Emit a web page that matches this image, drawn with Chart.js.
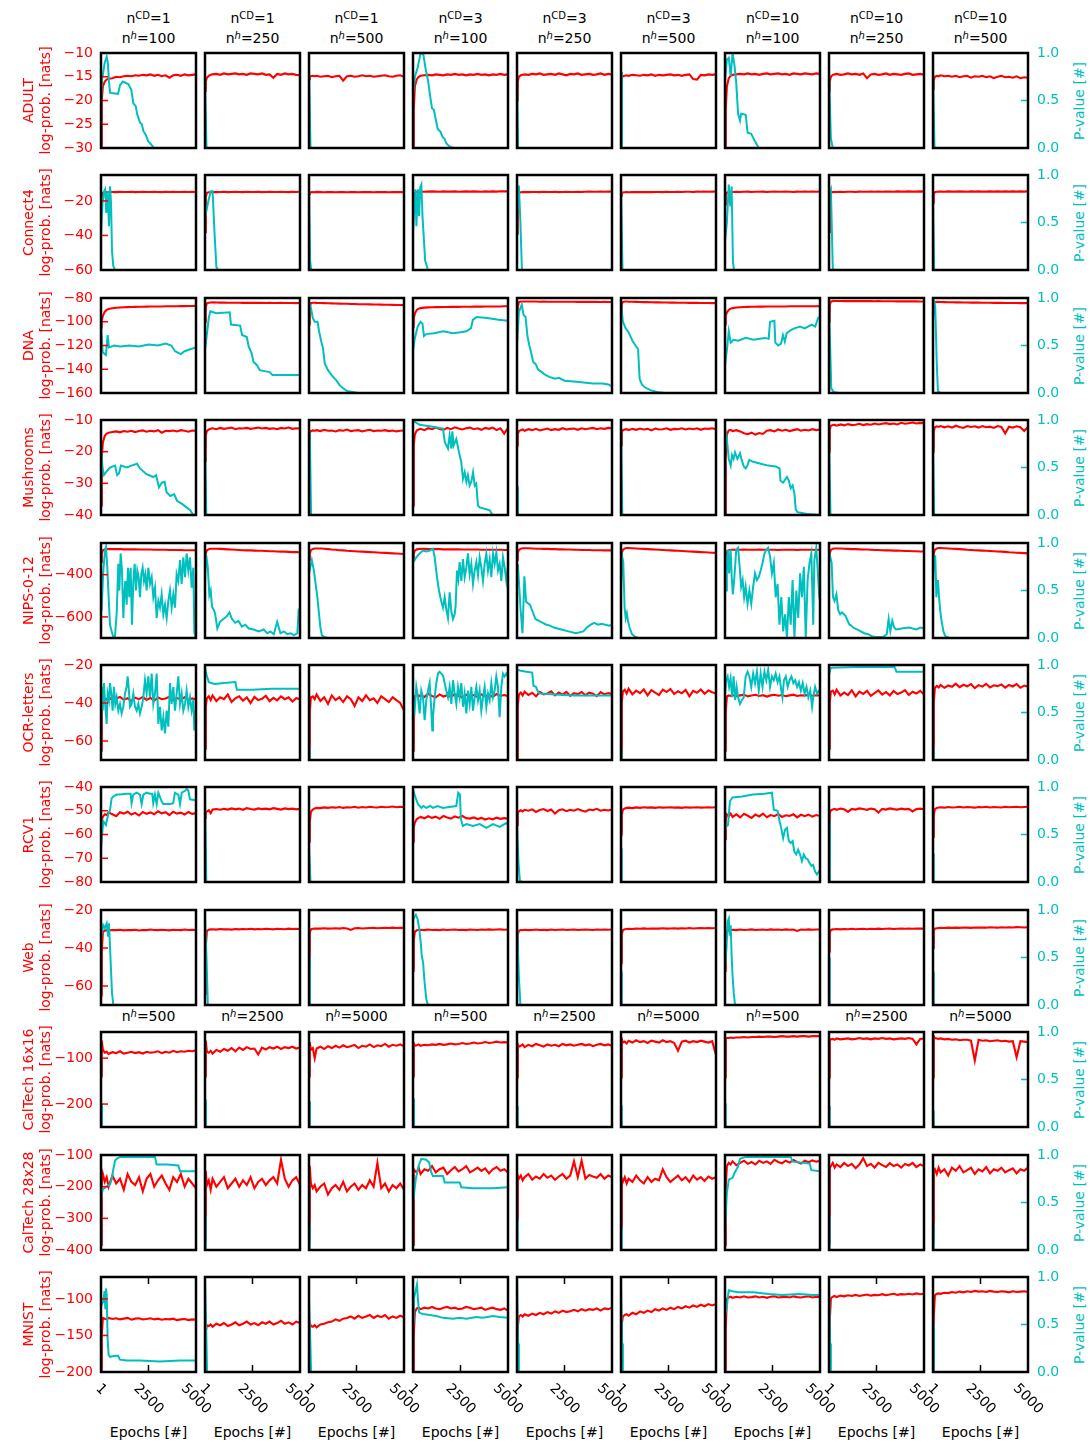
<!DOCTYPE html>
<html>
<head>
<meta charset="utf-8">
<script src="https://cdn.jsdelivr.net/npm/chart.js@4.4.1/dist/chart.umd.min.js"></script>
<style>
  body { margin: 0; background: #fff; }
  #fig { position: relative; width: 1090px; height: 1444px; overflow: hidden;
         font-family: 'DejaVu Sans', sans-serif; font-size: 14px; color: #000; }
  #fig canvas { position: absolute; }
  .lbl { position: absolute; white-space: nowrap; line-height: 20px; text-align: center; width: 104px; }
  .lbl sup { font-size: 10px; position: relative; top: -0.45em; vertical-align: baseline; line-height: 0; }
  .ptitle { position: absolute; white-space: nowrap; color: #00bfbf; line-height: 16px;
            transform: translate(-50%, -50%) rotate(-90deg); }
</style>
</head>
<body>
<div id="fig"></div>
<script>
const EPOCHS = [1, 40, 100, 200, 300, 400, 600, 800, 1000, 1200, 1400, 1600, 1800, 2000, 2200,
  2400, 2600, 2800, 3000, 3200, 3400, 3600, 3800, 4000, 4200, 4400, 4600, 4800, 5000];
const X_TICKS = [1, 2500, 5000];
const P_TICKS = [0, 0.5, 1];

const DATASET_NAMES = ['ADULT', 'Connect4', 'DNA', 'Mushrooms', 'NIPS-0-12', 'OCR-letters',
  'RCV1', 'Web', 'CalTech 16x16', 'CalTech 28x28', 'MNIST'];
const N_CD = ['1', '1', '1', '3', '3', '3', '10', '10', '10'];
const N_H = ['100', '250', '500', '100', '250', '500', '100', '250', '500'];
const N_H_CALTECH = ['500', '2500', '5000', '500', '2500', '5000', '500', '2500', '5000'];

const Y_MIN = [-30, -60, -160, -40, -700, -70, -80, -70, -250, -400, -200];
const Y_MAX = [-10, -5, -80, -10, -250, -20, -40, -20, -43, -100, -70];
const Y_TICKS = [
  [-30, -25, -20, -15, -10], [-60, -40, -20], [-160, -140, -120, -100, -80], [-40, -30, -20, -10],
  [-600, -400], [-60, -40, -20], [-80, -70, -60, -50, -40], [-60, -40, -20],
  [-200, -100], [-400, -300, -200, -100], [-200, -150, -100]
];

// log-probability (red), one array per column, values at EPOCHS
const ADULT_LL = [
  [-30,-20,-17,-16,-15.6,-15.4, -15.3,-15.0,-15.1,-14.9,-14.8,-14.9,-14.7,-14.8,-14.6,-14.7,-14.5,-14.8,-14.6,-14.9,-14.7,-15.2,-14.7,-14.6,-14.8,-14.5,-14.7,-14.6,-14.5],
  [-18,-16,-15.2,-14.8,-14.6,-14.5, -14.4,-14.6,-14.3,-14.5,-14.4,-14.3,-14.5,-14.4,-14.6,-14.3,-14.4,-14.5,-14.3,-14.6,-14.5,-15.2,-14.4,-14.6,-14.3,-14.5,-14.4,-14.6,-14.7],
  [-15.5,-15,-14.9,-14.8,-14.9,-14.8, -15,-14.9,-14.8,-15.1,-14.9,-14.8,-15.8,-14.9,-14.8,-15,-14.9,-14.7,-14.9,-14.8,-15,-14.9,-14.8,-14.7,-14.9,-15,-14.8,-14.7,-15],
  [-30,-22,-17,-15.5,-15,-14.8, -14.7,-14.6,-14.7,-14.5,-14.6,-14.7,-14.5,-14.6,-14.4,-14.6,-14.5,-14.7,-14.5,-14.6,-14.4,-14.6,-14.5,-14.7,-14.5,-14.6,-14.4,-14.6,-14.5],
  [-20,-16,-15,-14.7,-14.6,-14.5, -14.6,-14.4,-14.5,-14.3,-14.6,-14.5,-14.4,-14.6,-14.3,-14.5,-14.7,-14.4,-14.5,-14.3,-14.6,-14.5,-14.4,-14.6,-14.5,-14.3,-14.6,-14.4,-14.5],
  [-16.5,-15.3,-14.9,-14.8,-14.7,-14.8, -14.6,-14.7,-14.8,-14.6,-14.7,-14.5,-14.8,-14.6,-14.7,-14.6,-14.5,-14.7,-14.6,-14.8,-14.6,-14.5,-15.5,-15.6,-14.6,-14.7,-14.5,-14.6,-14.5],
  [-30,-22,-17,-15.3,-14.8,-14.6, -14.5,-14.4,-14.5,-14.3,-14.5,-14.4,-14.6,-14.4,-14.3,-14.5,-14.4,-14.3,-14.5,-14.4,-14.6,-14.3,-14.4,-14.5,-14.3,-14.4,-14.5,-14.3,-14.4],
  [-18,-16,-15,-14.6,-14.5,-14.4, -14.6,-14.5,-14.3,-14.5,-14.4,-14.6,-14.3,-15.3,-14.5,-14.4,-14.6,-14.5,-14.3,-14.6,-14.4,-14.5,-14.6,-14.4,-14.3,-14.6,-14.5,-14.4,-14.6],
  [-17.5,-15.8,-15,-14.8,-14.9,-14.7, -14.9,-14.8,-15,-14.8,-15.1,-14.9,-14.8,-15.2,-14.9,-15,-14.8,-15.1,-14.9,-15.3,-15,-14.8,-15.1,-15,-15.2,-14.9,-15.3,-15.1,-15.2]
];
const CONNECT4_LL = [
  [-21,-17,-15.3,-15,-14.9,-14.8, -14.8,-14.9,-14.7,-14.8,-14.8,-14.7,-14.9,-14.8,-14.7,-14.8,-14.8,-14.7,-14.8,-14.9,-14.7,-14.8,-14.7,-14.8,-14.8,-14.7,-14.8,-14.7,-14.8],
  [-38,-18,-15.3,-15,-14.9,-14.8, -14.9,-14.8,-14.7,-14.9,-14.8,-14.7,-14.8,-14.9,-14.7,-14.8,-14.8,-14.7,-14.9,-14.8,-14.7,-14.8,-14.8,-14.7,-14.8,-14.9,-14.7,-14.8,-14.7],
  [-16,-15.2,-15,-14.9,-15,-14.8, -14.9,-15,-14.8,-14.9,-15,-14.9,-14.8,-15,-14.9,-14.8,-15,-14.9,-14.9,-14.8,-15,-14.9,-14.8,-14.9,-15,-14.8,-14.9,-14.8,-14.9],
  [-27,-17,-15.2,-14.8,-14.7,-14.6, -14.7,-14.6,-14.5,-14.6,-14.7,-14.5,-14.6,-14.6,-14.5,-14.7,-14.6,-14.5,-14.6,-14.5,-14.6,-14.7,-14.5,-14.6,-14.5,-14.6,-14.4,-14.5,-14.5],
  [-39,-18,-15.3,-15,-14.9,-14.8, -14.9,-14.8,-14.8,-14.9,-14.7,-14.8,-14.8,-14.7,-14.9,-14.8,-14.7,-14.8,-14.8,-14.7,-14.8,-14.7,-14.6,-14.7,-14.7,-14.6,-14.7,-14.6,-14.6],
  [-17,-15.5,-15.1,-15,-14.9,-15, -14.9,-14.9,-14.8,-14.9,-14.8,-14.9,-14.8,-14.8,-14.9,-14.7,-14.8,-14.8,-14.7,-14.8,-14.7,-14.7,-14.8,-14.6,-14.7,-14.6,-14.7,-14.6,-14.6],
  [-22,-16.5,-15.2,-14.9,-14.8,-14.8, -14.7,-14.8,-14.7,-14.6,-14.8,-14.7,-14.7,-14.6,-14.8,-14.7,-14.6,-14.7,-14.7,-14.6,-14.7,-14.8,-14.6,-14.7,-14.6,-14.7,-14.6,-14.7,-14.6],
  [-38,-18,-15.2,-14.9,-14.8,-14.8, -14.7,-14.8,-14.7,-14.7,-14.8,-14.6,-14.7,-14.7,-14.6,-14.7,-14.6,-14.7,-14.6,-14.6,-14.7,-14.5,-14.6,-14.6,-14.5,-14.6,-14.6,-14.5,-14.6],
  [-21,-16,-14.9,-14.7,-14.6,-14.6, -14.7,-14.5,-14.6,-14.6,-14.5,-14.6,-14.7,-14.5,-14.6,-14.5,-14.6,-14.6,-14.5,-14.6,-14.5,-14.6,-14.5,-14.6,-14.5,-14.6,-14.5,-14.6,-14.5]
];
const DNA_LL = [
  [-105,-99,-95,-91.5,-90,-89.3, -88.6,-88.2,-88,-87.8,-87.7,-87.6,-87.5,-87.4,-87.4,-87.3,-87.2,-87.2,-87.1,-87.1,-87,-87,-86.9,-86.9,-86.8,-86.8,-86.7,-86.7,-86.6],
  [-100,-88,-84.5,-84,-83.8,-83.7, -83.8,-83.9,-83.9,-84,-84,-84,-84,-84.1,-84,-84.1,-84.1,-84,-84.1,-84.2,-84.1,-84.2,-84.2,-84.1,-84.2,-84.2,-84.2,-84.3,-84.2],
  [-102,-88,-84.3,-84,-84,-84.1, -84.2,-84.3,-84.4,-84.5,-84.6,-84.7,-84.8,-84.9,-85,-85.1,-85.2,-85.3,-85.3,-85.4,-85.5,-85.5,-85.6,-85.7,-85.7,-85.8,-85.9,-85.9,-86],
  [-104,-97,-93,-90,-89,-88.5, -88.1,-87.9,-87.8,-87.7,-87.7,-87.6,-87.6,-87.5,-87.5,-87.5,-87.4,-87.4,-87.4,-87.3,-87.3,-87.3,-87.2,-87.2,-87.1,-87.1,-87.1,-87,-87],
  [-103,-88,-83.5,-83,-82.9,-82.9, -83,-83,-83,-83.1,-83,-83.1,-83.1,-83.1,-83.2,-83.1,-83.2,-83.2,-83.2,-83.3,-83.2,-83.3,-83.3,-83.3,-83.3,-83.4,-83.3,-83.4,-83.4],
  [-92,-85,-83.3,-83,-83,-83.1, -83.2,-83.3,-83.4,-83.5,-83.5,-83.6,-83.7,-83.7,-83.8,-83.8,-83.9,-83.9,-84,-84,-84,-84.1,-84.1,-84.1,-84.2,-84.2,-84.2,-84.3,-84.3],
  [-102,-95,-92,-90,-89,-88.5, -88,-87.8,-87.6,-87.5,-87.4,-87.4,-87.3,-87.3,-87.2,-87.2,-87.2,-87.1,-87.1,-87.1,-87,-87,-87,-87,-86.9,-86.9,-86.9,-86.9,-86.8],
  [-100,-86,-83,-82.6,-82.5,-82.5, -82.5,-82.6,-82.5,-82.6,-82.6,-82.5,-82.6,-82.6,-82.6,-82.7,-82.6,-82.7,-82.7,-82.7,-82.7,-82.8,-82.7,-82.8,-82.8,-82.8,-82.8,-82.9,-82.9],
  [-92,-85,-83.5,-83.3,-83.3,-83.4, -83.5,-83.6,-83.6,-83.7,-83.7,-83.8,-83.8,-83.9,-83.9,-83.9,-84,-84,-84,-84.1,-84.1,-84.1,-84.2,-84.2,-84.2,-84.2,-84.3,-84.3,-84.3]
];
const MUSHROOMS_LL = [
  [-37,-22,-17,-15,-14.3,-14, -13.8,-13.6,-13.9,-13.5,-13.7,-13.4,-13.8,-13.5,-13.3,-13.7,-13.4,-13.6,-13.2,-14,-13.4,-13.5,-13.3,-13.6,-13.2,-13.4,-13.7,-13.3,-13.4],
  [-23,-15,-13.5,-13,-12.8,-12.6, -12.9,-12.5,-12.8,-12.6,-12.4,-12.9,-12.6,-12.7,-12.5,-12.8,-12.6,-12.4,-12.7,-12.5,-12.8,-12.6,-12.9,-12.5,-12.7,-12.4,-12.8,-12.6,-12.7],
  [-16,-14,-13.5,-13.3,-13.4,-13.2, -13.5,-13.1,-13.4,-13.3,-13.6,-13.2,-13.4,-13,-13.5,-13.3,-13.2,-13.6,-13.3,-13.1,-13.5,-13.3,-13.4,-13.2,-13.5,-13.3,-13.6,-13.4,-13.3],
  [-37,-18,-14.5,-13.3,-13,-12.8, -13.2,-12.6,-12.9,-12.4,-12.8,-13.1,-12.5,-12.9,-12.3,-12.7,-13,-12.6,-12.4,-12.9,-12.6,-13.1,-12.5,-12.8,-12.4,-13.2,-12.6,-14.3,-12.5],
  [-18,-14.5,-13.5,-13.2,-13,-13.4, -12.9,-13.2,-12.8,-13.3,-13,-12.7,-13.2,-12.9,-13.1,-12.6,-13,-12.8,-12.7,-13.1,-12.6,-12.9,-12.7,-12.5,-12.9,-12.6,-12.8,-12.5,-12.6],
  [-18,-14,-13.2,-13,-12.9,-13.2, -12.8,-13.1,-12.7,-13,-12.8,-13.3,-12.7,-13,-12.9,-12.6,-13.1,-12.8,-12.9,-12.6,-13,-12.7,-12.9,-12.6,-13.1,-12.7,-12.8,-12.6,-12.9],
  [-40,-22,-14.5,-13.3,-13.1,-13.5, -13.2,-13.6,-14.2,-14.5,-14,-14.6,-14.1,-14.4,-13.4,-13.2,-13.6,-13,-13.4,-13.1,-13.5,-13.2,-12.9,-13.4,-13.1,-13.3,-12.9,-13.2,-13],
  [-20,-13,-11.8,-11.6,-11.5,-11.8, -11.4,-11.7,-11.3,-11.6,-11.5,-11.2,-11.6,-11.3,-11.5,-11.1,-11.4,-11.2,-11,-11.3,-11.1,-11.4,-10.9,-11.2,-11,-10.8,-11.1,-10.9,-11],
  [-20,-13.5,-12.3,-12,-12.2,-11.9, -12.3,-12,-12.4,-11.8,-12.2,-12.5,-11.9,-12.2,-12,-12.4,-11.9,-12.3,-12.1,-12.5,-11.9,-12.2,-14.2,-12.1,-12.4,-12,-12.3,-13.5,-12.2]
];
const NIPS_LL = [
  [-340,-300,-285,-280,-279,-279, -279,-279,-279,-280,-280,-280,-280,-281,-281,-281,-281,-282,-282,-282,-282,-283,-283,-283,-283,-284,-284,-284,-284],
  [-330,-300,-285,-279,-277,-277, -277,-278,-279,-280,-281,-282,-283,-284,-285,-285,-286,-287,-287,-288,-289,-289,-290,-291,-291,-292,-293,-293,-294],
  [-330,-300,-284,-278,-276,-276, -276,-277,-279,-281,-282,-284,-285,-287,-288,-289,-290,-291,-292,-293,-294,-295,-296,-297,-298,-299,-300,-301,-302],
  [-330,-300,-286,-280,-279,-278, -278,-279,-279,-279,-279,-280,-280,-280,-280,-280,-281,-281,-281,-281,-281,-282,-282,-282,-282,-282,-282,-283,-283],
  [-330,-298,-283,-277,-275,-275, -275,-276,-277,-277,-278,-278,-279,-279,-280,-280,-281,-281,-282,-282,-283,-283,-283,-284,-284,-284,-285,-285,-285],
  [-330,-298,-283,-276,-274,-274, -275,-276,-277,-278,-279,-280,-281,-282,-283,-284,-285,-286,-287,-288,-289,-290,-291,-292,-293,-294,-295,-296,-297],
  [-340,-305,-290,-284,-282,-282, -282,-282,-281,-282,-282,-282,-281,-282,-282,-282,-282,-283,-282,-282,-282,-282,-283,-282,-282,-282,-282,-283,-282],
  [-330,-298,-283,-277,-276,-276, -276,-277,-278,-279,-279,-280,-281,-281,-282,-283,-283,-284,-285,-285,-286,-286,-287,-288,-288,-289,-289,-290,-290],
  [-330,-298,-283,-276,-274,-274, -275,-276,-277,-278,-279,-280,-282,-283,-284,-285,-286,-287,-288,-289,-290,-291,-292,-294,-295,-296,-297,-298,-299]
];
const OCR_LL = [
  [-65,-45,-38.5,-37.5,-38.2,-37, -38.5,-37.6,-36.8,-38.3,-37.5,-39,-37.2,-38,-36.9,-38.4,-37.3,-38.8,-37.1,-38,-37.6,-36.7,-38.5,-37.4,-38.1,-37,-38.3,-37.6,-38],
  [-64,-42,-37.5,-36.5,-38.5,-36, -39,-37,-38,-35.5,-39.5,-37.5,-36.5,-38.8,-37,-40,-36.8,-38.5,-37.8,-36.2,-39,-37.3,-38.6,-36.5,-38,-37,-39.2,-37.5,-38],
  [-70,-45,-37,-36.5,-38,-35.5, -39,-37,-40.5,-36,-38.5,-37,-39.5,-36.5,-38,-41.5,-37,-39,-36,-38.5,-37.5,-40,-36.5,-38,-39.5,-37,-38.5,-40,-44],
  [-65,-42,-36.5,-35.5,-36.5,-35.8, -36.8,-35.2,-36.3,-37,-35.5,-36.6,-35.9,-36.9,-35.4,-36.2,-37.1,-35.6,-36.5,-35.8,-36.8,-35.5,-36.4,-35.9,-36.7,-35.3,-36.3,-35.8,-36.4],
  [-70,-42,-35.5,-34.5,-36,-34, -35.8,-34.6,-36.5,-34.2,-35.5,-35,-33.8,-36,-34.5,-35.6,-34.1,-36.2,-34.8,-35.3,-34.2,-35.9,-34.6,-35.1,-36.4,-34.3,-35.5,-34.8,-35.2],
  [-70,-40,-34,-33,-35,-32.5, -35.5,-33.5,-34.8,-32.8,-36,-33.2,-34.5,-35.8,-33,-34.2,-32.6,-35.3,-33.8,-34.9,-33.1,-36.5,-33.6,-34.6,-32.9,-35.1,-33.4,-34.3,-35],
  [-65,-45,-36.5,-36,-36.3,-35.8, -36.4,-36,-35.6,-36.5,-36.1,-35.7,-36.3,-35.9,-36.6,-36,-35.7,-36.2,-35.8,-36.4,-36,-35.6,-36.3,-35.9,-36.1,-35.7,-36.2,-35.9,-36],
  [-64,-40,-34,-33.5,-35.5,-33, -36,-34.5,-35.8,-33.3,-36.5,-34,-35.2,-33.6,-36.2,-34.8,-33.4,-35.6,-34.2,-36,-33.7,-35.3,-34.5,-33.2,-35.8,-34.1,-35,-33.6,-35.5],
  [-70,-40,-32,-31,-31.8,-30.5, -32,-30.8,-31.5,-29.8,-31.7,-30.4,-31.2,-30,-32.2,-30.6,-31.4,-29.9,-31.8,-30.7,-31.1,-30.2,-31.9,-30.5,-31.3,-30,-32,-30.8,-31.4]
];
const RCV1_LL = [
  [-58,-54,-52.5,-51.5,-51.8,-50.8, -51.5,-52.3,-50.6,-51.2,-50.4,-51.6,-50.9,-52,-50.5,-51.3,-50.7,-51.5,-50.2,-51.1,-50.6,-51.8,-50.4,-51.2,-50.8,-51.6,-50.5,-51.3,-51],
  [-53,-51,-50.3,-49.8,-51,-49.5, -49.3,-49.6,-49.2,-49.5,-49,-49.4,-49.1,-49.6,-48.9,-49.3,-49.5,-49,-49.3,-49.1,-49.4,-48.9,-49.2,-49.5,-49,-49.3,-49.1,-49.4,-49.2],
  [-63,-55,-50.5,-49.5,-49,-48.8, -48.9,-48.6,-48.8,-48.5,-48.7,-48.4,-48.8,-48.5,-48.6,-48.3,-48.7,-48.4,-48.6,-48.3,-48.5,-48.6,-48.3,-48.5,-48.4,-48.2,-48.5,-48.3,-48.4],
  [-63,-57,-55,-53.5,-53,-52.6, -53.2,-52.3,-53,-52.5,-53.4,-52.2,-52.8,-53.3,-52.4,-52.9,-52.2,-53.1,-53.3,-52.8,-53.5,-53,-53.7,-53.2,-53.6,-52.9,-53.4,-53.1,-53.3],
  [-56,-51,-50.2,-49.8,-50.3,-49.6, -50,-49.4,-50.5,-49.7,-49.3,-50.1,-49.5,-51.2,-49.8,-49.4,-50.2,-49.6,-50,-49.3,-49.9,-50.4,-49.5,-49.8,-49.2,-50,-49.6,-49.9,-49.5],
  [-60,-52,-49.5,-49,-48.8,-48.7, -48.9,-48.6,-48.8,-48.5,-48.7,-48.6,-48.8,-48.5,-48.7,-48.6,-48.5,-48.7,-48.6,-48.8,-48.5,-48.7,-48.6,-48.5,-48.7,-48.6,-48.5,-48.6,-48.5],
  [-62,-54,-51.5,-52.3,-51.2,-52.6, -51.5,-52.8,-51.3,-52.1,-53,-51.6,-52.4,-51.2,-52.7,-51.8,-52.3,-51.4,-52.6,-51.9,-52.2,-51.5,-52.8,-51.7,-52.3,-51.6,-52.5,-51.8,-52.2],
  [-56,-51,-49.8,-49.5,-49.2,-49.6, -49.1,-49.4,-50.5,-49.2,-49.5,-49,-49.3,-49.6,-49.1,-49.4,-50.8,-49.2,-49.5,-49,-49.3,-49.5,-49.1,-49.4,-49.2,-50.3,-49.3,-49.1,-49.4],
  [-61,-52,-49.3,-48.8,-48.6,-48.5, -48.7,-48.4,-48.6,-48.5,-48.3,-48.6,-48.4,-48.5,-48.7,-48.4,-48.5,-48.3,-48.6,-48.4,-48.5,-48.6,-48.3,-48.5,-48.4,-48.3,-48.5,-48.4,-48.3]
];
const WEB_LL = [
  [-65,-42,-31.5,-30.8,-30.6,-30.7, -30.5,-30.6,-30.4,-30.7,-30.5,-30.6,-30.4,-30.8,-30.5,-30.6,-30.3,-30.5,-30.6,-30.4,-30.5,-30.7,-30.4,-30.5,-30.6,-30.3,-30.5,-30.4,-30.5],
  [-64,-40,-31,-30.4,-30.2,-30.1, -30.3,-30,-30.2,-30.1,-30.3,-30,-30.2,-30,-30.1,-29.9,-30.2,-30,-30.1,-29.9,-30,-30.2,-29.9,-30,-30.1,-29.8,-30,-29.9,-30],
  [-48,-32,-30.2,-29.9,-29.8,-29.7, -29.8,-29.6,-29.8,-29.7,-29.6,-29.8,-29.5,-29.7,-30.5,-29.6,-29.5,-29.7,-29.6,-29.5,-29.4,-29.6,-29.5,-29.4,-29.5,-29.3,-29.5,-29.4,-29.4],
  [-52,-36,-31.5,-30.6,-30.5,-30.4, -30.6,-30.3,-30.5,-30.4,-30.6,-30.3,-30.5,-30.4,-30.3,-30.5,-30.4,-30.6,-30.3,-30.4,-30.5,-30.3,-30.4,-30.2,-30.4,-30.3,-30.2,-30.4,-30.3],
  [-45,-33,-31,-30.6,-30.5,-30.4, -30.6,-30.5,-30.3,-30.5,-30.4,-30.6,-30.3,-30.5,-30.4,-30.3,-30.5,-30.4,-30.3,-30.5,-30.4,-30.3,-30.4,-30.5,-30.3,-30.4,-30.3,-30.4,-30.3],
  [-48,-33,-30.5,-30.1,-30,-29.9, -30,-29.8,-29.9,-29.7,-29.9,-29.8,-29.7,-29.8,-29.6,-29.8,-29.7,-29.6,-29.8,-29.6,-29.7,-29.5,-29.7,-29.6,-29.5,-29.6,-29.5,-29.6,-29.5],
  [-52,-36,-31.2,-30.6,-30.5,-30.4, -30.6,-30.3,-30.5,-30.4,-30.2,-30.5,-30.4,-30.3,-30.5,-30.2,-30.4,-30.3,-30.5,-30.2,-30.4,-30.3,-31,-30.3,-30.4,-30.2,-30.4,-30.3,-30.3],
  [-42,-32,-30.5,-30.2,-30.1,-30, -30.2,-30,-30.1,-29.9,-30.1,-30,-29.9,-30.1,-29.9,-30,-29.8,-30,-29.9,-29.8,-30,-29.9,-29.8,-29.9,-29.8,-29.9,-29.7,-29.8,-29.8],
  [-40,-31,-29.8,-29.6,-29.5,-29.4, -29.5,-29.3,-29.4,-29.3,-29.4,-29.2,-29.3,-29.4,-29.2,-29.3,-29.2,-29.3,-29.1,-29.2,-29.3,-29.1,-29.2,-29.1,-29.2,-29,-29.1,-29.2,-29.1]
];
const CALTECH16_LL = [
  [-140,-62,-82,-88,-86,-91, -87,-89,-85,-90,-88,-86,-89,-87,-90,-86,-88,-87,-85,-89,-86,-88,-84,-87,-85,-86,-84,-85,-83],
  [-140,-62,-86,-88,-84,-90, -82,-86,-80,-84,-78,-85,-77,-82,-76,-80,-79,-92,-77,-81,-76,-79,-75,-80,-76,-78,-75,-79,-77],
  [-140,-65,-82,-78,-100,-79, -75,-80,-74,-78,-73,-77,-72,-76,-74,-71,-78,-73,-75,-70,-76,-72,-74,-69,-75,-71,-73,-70,-74],
  [-140,-68,-73,-72,-70,-73, -71,-72,-70,-71,-69,-71,-70,-68,-70,-69,-67,-69,-68,-66,-68,-67,-65,-67,-66,-64,-66,-65,-66],
  [-142,-70,-75,-73,-70,-76, -71,-74,-69,-72,-75,-70,-73,-71,-74,-69,-72,-70,-73,-71,-69,-72,-70,-74,-71,-69,-72,-70,-73],
  [-142,-58,-66,-64,-68,-62, -66,-61,-65,-63,-67,-62,-64,-66,-61,-65,-63,-67,-84,-64,-62,-66,-63,-65,-62,-64,-66,-63,-93],
  [-142,-58,-56,-56,-55,-56, -55,-55,-54,-55,-54,-54,-53,-54,-53,-53,-54,-53,-52,-53,-53,-52,-53,-52,-52,-53,-52,-52,-52],
  [-142,-60,-59,-58,-60,-57, -59,-58,-57,-59,-58,-56,-58,-57,-59,-57,-58,-56,-58,-57,-59,-58,-57,-58,-56,-58,-70,-58,-57],
  [-142,-52,-56,-57,-58,-57, -59,-58,-60,-59,-61,-60,-60,-62,-105,-60,-62,-61,-63,-62,-61,-63,-62,-64,-63,-98,-63,-64,-65]
];
const CALTECH28_LL = [
  [-384,-190,-160,-185,-170,-200, -165,-190,-175,-210,-160,-185,-195,-170,-215,-175,-160,-200,-180,-165,-190,-210,-170,-185,-160,-200,-175,-190,-205],
  [-370,-150,-195,-180,-210,-175, -200,-185,-170,-205,-190,-175,-200,-180,-195,-170,-205,-185,-175,-195,-180,-170,-190,-115,-175,-200,-180,-170,-195],
  [-370,-135,-190,-205,-195,-215, -200,-190,-225,-205,-195,-210,-185,-215,-200,-190,-210,-195,-205,-180,-200,-125,-205,-190,-215,-195,-205,-190,-210],
  [-384,-145,-150,-155,-140,-160, -145,-150,-135,-155,-145,-140,-160,-148,-138,-152,-145,-135,-155,-148,-140,-150,-142,-158,-145,-138,-150,-145,-155],
  [-305,-165,-175,-165,-180,-170, -160,-178,-168,-175,-160,-172,-165,-178,-168,-160,-175,-165,-120,-170,-118,-175,-163,-168,-172,-160,-175,-165,-170],
  [-330,-175,-185,-170,-190,-175, -185,-165,-180,-190,-170,-185,-175,-180,-145,-170,-185,-175,-165,-180,-170,-185,-165,-178,-170,-182,-168,-175,-170],
  [-385,-200,-135,-125,-130,-120, -132,-125,-118,-128,-122,-130,-118,-125,-120,-128,-115,-122,-126,-118,-124,-116,-122,-127,-118,-123,-117,-121,-119],
  [-380,-140,-135,-125,-140,-130, -138,-125,-135,-128,-142,-130,-110,-135,-128,-140,-125,-132,-138,-126,-135,-130,-140,-128,-133,-125,-138,-130,-135],
  [-370,-150,-145,-160,-140,-155, -145,-165,-140,-150,-135,-155,-148,-140,-160,-145,-152,-138,-158,-145,-150,-140,-155,-148,-142,-158,-145,-150,-140]
];
const MNIST_LL = [
  [-198,-150,-126,-127,-128,-126, -127.5,-126.5,-128,-127,-126,-128.5,-127,-126.5,-128,-127.5,-126.5,-128,-127,-128.5,-127.5,-128,-127,-129,-128,-127.5,-129,-128,-128.5],
  [-190,-145,-136,-137,-135,-138, -134,-136,-133,-137,-135,-132,-136,-134,-131,-135,-133,-136,-132,-134,-131,-135,-133,-130,-134,-132,-135,-131,-133],
  [-190,-132,-137,-138,-136,-139, -135,-134,-132,-131,-128,-130,-127,-126,-124,-127,-123,-126,-124,-122,-126,-123,-125,-122,-127,-124,-126,-123,-125],
  [-198,-150,-118,-113,-112,-114, -112,-113,-111,-113,-114,-112,-111,-113,-112,-114,-113,-111,-112,-114,-113,-112,-115,-113,-112,-114,-115,-113,-116],
  [-200,-140,-124,-122,-124,-121, -123,-120,-122,-119,-121,-118,-120,-117,-119,-116,-118,-117,-115,-117,-114,-116,-114,-115,-113,-116,-113,-114,-112],
  [-200,-135,-124,-122,-121,-123, -119,-121,-117,-119,-116,-118,-114,-116,-113,-115,-112,-114,-111,-113,-110,-112,-109,-111,-108,-110,-107,-109,-107],
  [-198,-140,-100,-98,-97,-98.5, -97,-98,-96.5,-98,-97.5,-96.5,-98,-97,-98.5,-97,-96.5,-98,-97.5,-97,-98,-96.5,-97.5,-98,-97,-96.5,-98,-97,-97.5],
  [-198,-130,-99,-97,-96,-97.5, -95.5,-96.5,-95,-96,-94.5,-96,-95,-94,-95.5,-94.5,-95,-93.5,-95,-94,-93,-94.5,-93.5,-94,-93,-94,-92.5,-93.5,-93],
  [-198,-125,-95,-93,-92.5,-93, -91.5,-92,-90.5,-91.5,-90,-91,-89.5,-90.5,-89,-90,-89.5,-90.5,-89,-90,-90.5,-89.5,-90,-91,-89.5,-90.5,-90,-89.5,-90.5]
];

// P-value (cyan), [epoch, value] pairs per column
const ADULT_P = [
  [[1,0.5],[60,0.72],[200,0.9],[300,0.96],[360,0.9],[420,0.7],[480,0.58],[900,0.57],[1000,0.66],[1150,0.7],[1450,0.67],[1600,0.61],[1700,0.47],[1830,0.44],[1900,0.36],[2050,0.27],[2150,0.25],[2230,0.18],[2350,0.14],[2490,0.07],[2670,0.03],[2790,0],[5000,0]],
  [[1,0.7],[80,0],[5000,0]],
  [[1,0.85],[80,0],[5000,0]],
  [[1,0.55],[100,0.75],[250,0.85],[400,1.0],[550,0.98],[650,0.85],[800,0.7],[900,0.55],[1000,0.42],[1100,0.4],[1200,0.3],[1300,0.2],[1450,0.17],[1550,0.12],[1650,0.1],[1750,0.05],[1900,0.02],[2100,0],[5000,0]],
  [[1,0.75],[60,0],[5000,0]],
  [[1,0.8],[50,0],[5000,0]],
  [[1,0.7],[100,0.93],[200,0.95],[300,0.76],[400,1.0],[500,0.87],[590,0.69],[690,0.36],[790,0.29],[850,0.36],[1090,0.35],[1190,0.16],[1380,0.15],[1580,0.07],[1780,0],[5000,0]],
  [[1,0.8],[100,0.1],[200,0],[5000,0]],
  [[1,0.8],[80,0],[5000,0]]
];
const CONNECT4_P = [
  [[1,0.37],[80,0.7],[150,0.82],[220,0.85],[280,0.6],[350,0.83],[420,0.46],[480,0.88],[530,0.7],[580,0.2],[650,0.04],[750,0],[5000,0]],
  [[1,0.55],[150,0.7],[300,0.83],[400,0.83],[500,0.4],[600,0.03],[700,0],[5000,0]],
  [[1,0.85],[60,0.1],[120,0],[5000,0]],
  [[1,0.39],[90,0.74],[130,0.85],[180,0.46],[260,0.85],[320,0.57],[380,0.87],[440,0.9],[500,0.57],[640,0.1],[790,0],[5000,0]],
  [[1,0.6],[100,0.89],[180,0.5],[260,0],[5000,0]],
  [[1,0.85],[80,0],[5000,0]],
  [[1,0.3],[100,0.5],[200,0.9],[280,0.67],[350,0.88],[420,0.08],[480,0],[5000,0]],
  [[1,0.8],[100,0.85],[200,0.02],[260,0],[5000,0]],
  [[1,0.75],[60,0],[5000,0]]
];
const DNA_P = [
  [[1,0.72],[90,0.43],[260,0.4],[350,0.61],[420,0.48],[700,0.5],[1000,0.49],[1500,0.5],[2000,0.49],[2500,0.51],[3000,0.5],[3400,0.52],[3700,0.5],[3900,0.44],[4200,0.41],[4400,0.44],[4700,0.46],[5000,0.48]],
  [[1,0.65],[60,0.55],[200,0.79],[280,0.86],[600,0.84],[1300,0.85],[1370,0.72],[1850,0.71],[1950,0.61],[2200,0.59],[2300,0.49],[2450,0.42],[2550,0.33],[2750,0.29],[2880,0.24],[3400,0.22],[3550,0.19],[5000,0.19]],
  [[1,0.95],[100,0.9],[200,0.79],[300,0.75],[450,0.75],[530,0.65],[650,0.54],[740,0.47],[830,0.31],[1000,0.24],[1180,0.19],[1450,0.13],[1620,0.08],[1800,0.05],[2000,0.02],[2300,0.01],[2600,0],[5000,0]],
  [[1,0.45],[100,0.58],[250,0.7],[400,0.75],[500,0.73],[580,0.6],[700,0.62],[1100,0.63],[1600,0.65],[2100,0.63],[2500,0.64],[2800,0.65],[3050,0.68],[3150,0.77],[3350,0.8],[3900,0.79],[4500,0.77],[5000,0.76]],
  [[1,0.5],[100,0.85],[250,0.93],[350,0.82],[450,0.8],[550,0.6],[650,0.5],[750,0.42],[850,0.33],[1000,0.3],[1100,0.25],[1300,0.22],[1500,0.19],[1700,0.17],[2000,0.15],[2200,0.16],[2500,0.13],[3000,0.12],[3500,0.11],[4000,0.1],[4500,0.1],[4800,0.09],[5000,0.07]],
  [[1,0.95],[100,0.75],[250,0.68],[400,0.64],[600,0.55],[800,0.49],[900,0.46],[980,0.15],[1100,0.09],[1250,0.06],[1550,0.03],[1900,0.01],[2300,0],[5000,0]],
  [[1,0.3],[100,0.45],[200,0.65],[300,0.53],[450,0.56],[700,0.55],[1100,0.58],[1500,0.56],[2100,0.58],[2300,0.57],[2370,0.75],[2600,0.76],[2650,0.53],[2800,0.5],[2950,0.52],[3050,0.61],[3150,0.54],[3250,0.63],[3450,0.66],[3650,0.68],[3950,0.7],[4200,0.68],[4550,0.72],[4750,0.7],[4900,0.79],[5000,0.8]],
  [[1,0.9],[60,0.5],[120,0.05],[250,0.01],[500,0],[5000,0]],
  [[1,0.75],[60,0.98],[120,0.9],[200,0.3],[260,0.02],[400,0],[5000,0]]
];
const MUSHROOMS_P = [
  [[1,0.72],[80,0.5],[160,0.42],[300,0.46],[470,0.5],[740,0.52],[850,0.42],[950,0.44],[1050,0.52],[1350,0.5],[1600,0.52],[1900,0.54],[2050,0.49],[2400,0.43],[2750,0.4],[2900,0.42],[3050,0.29],[3200,0.34],[3350,0.35],[3450,0.24],[3650,0.2],[3850,0.22],[4000,0.15],[4250,0.12],[4500,0.08],[4700,0.05],[4850,0],[5000,0]],
  [[1,0.8],[70,0],[5000,0]],
  [[1,0.86],[50,0.8],[110,0],[5000,0]],
  [[1,0.99],[350,0.95],[1050,0.93],[1580,0.91],[1670,0.77],[1840,0.7],[1930,0.84],[2020,0.7],[2070,0.88],[2140,0.73],[2280,0.8],[2420,0.66],[2540,0.56],[2630,0.38],[2720,0.45],[2810,0.35],[2890,0.42],[2980,0.31],[3070,0.35],[3160,0.45],[3250,0.31],[3330,0.33],[3420,0.1],[3510,0.08],[3860,0.06],[4040,0.05],[4180,0],[5000,0]],
  [[1,0.3],[50,0],[5000,0]],
  [[1,0.95],[70,0],[5000,0]],
  [[1,0.92],[100,0.8],[200,0.59],[300,0.52],[370,0.63],[450,0.59],[530,0.66],[650,0.59],[790,0.65],[880,0.58],[990,0.51],[1090,0.49],[1180,0.52],[1280,0.58],[1480,0.56],[1880,0.54],[2270,0.52],[2670,0.51],[2870,0.49],[2920,0.36],[3060,0.34],[3260,0.4],[3360,0.36],[3460,0.28],[3560,0.31],[3660,0.22],[3720,0.06],[3810,0.03],[4050,0.02],[4300,0.01],[5000,0]],
  [[1,0.8],[80,0],[5000,0]],
  [[1,0.75],[60,0],[5000,0]]
];
const NIPS_P = [
  [[1,0.3],[35,0.32],[123,0.71],[210,0.92],[263,0.96],[333,0.74],[403,0.43],[474,0.14],[561,0.07],[649,0.01],[737,0.02],[824,0.25],[912,0.78],[965,0.5],[1035,0.89],[1105,0.71],[1175,0.21],[1228,0.46],[1281,0.6],[1351,0.35],[1421,0.74],[1491,0.43],[1561,0.74],[1631,0.14],[1702,0.6],[1772,0.78],[1842,0.5],[1912,0.71],[1982,0.64],[2052,0.43],[2122,0.67],[2193,0.74],[2263,0.6],[2333,0.67],[2403,0.5],[2491,0.74],[2579,0.57],[2667,0.64],[2754,0.43],[2842,0.53],[2930,0.21],[3018,0.39],[3105,0.32],[3193,0.46],[3281,0.25],[3368,0.35],[3456,0.21],[3544,0.39],[3631,0.5],[3719,0.32],[3807,0.46],[3894,0.32],[3982,0.67],[4070,0.6],[4158,0.82],[4245,0.57],[4333,0.85],[4421,0.64],[4508,0.89],[4596,0.71],[4684,0.85],[4771,0.53],[4859,0.74],[4912,0.07],[4965,0],[5000,0]],
  [[1,0.6],[60,0.88],[150,0.74],[230,0.45],[300,0.5],[370,0.33],[450,0.3],[530,0.26],[650,0.1],[790,0.17],[970,0.2],[1150,0.23],[1290,0.27],[1420,0.2],[1590,0.16],[1760,0.18],[1940,0.12],[2120,0.14],[2300,0.1],[2560,0.09],[2830,0.07],[3090,0.09],[3270,0.05],[3440,0.07],[3620,0.04],[3800,0.17],[3970,0.05],[4150,0.07],[4330,0.04],[4500,0.05],[4680,0.03],[4860,0.05],[4930,0.3],[5000,0.3]],
  [[1,0.68],[150,0.82],[250,0.72],[350,0.57],[440,0.43],[530,0.25],[600,0.11],[680,0.03],[800,0.01],[1000,0],[5000,0]],
  [[1,0.8],[88,0.82],[175,0.85],[351,0.89],[526,0.92],[702,0.91],[877,0.92],[1052,0.94],[1140,0.85],[1263,0.64],[1368,0.5],[1438,0.43],[1508,0.37],[1579,0.32],[1666,0.43],[1754,0.3],[1842,0.21],[1929,0.48],[2017,0.28],[2105,0.2],[2193,0.25],[2245,0.34],[2315,0.71],[2386,0.62],[2456,0.8],[2544,0.6],[2631,0.83],[2719,0.64],[2807,0.74],[2894,0.89],[2982,0.67],[3070,0.78],[3157,0.57],[3245,0.71],[3333,0.8],[3421,0.66],[3508,0.85],[3596,0.74],[3684,0.6],[3771,0.78],[3859,0.89],[3947,0.71],[4035,0.83],[4122,0.64],[4210,0.89],[4298,0.78],[4385,0.9],[4473,0.71],[4561,0.78],[4649,0.6],[4736,0.85],[4824,0.74],[4912,0.6],[5000,0.76]],
  [[1,0.6],[40,0.78],[100,0.6],[190,0.3],[290,0.05],[390,0.65],[480,0.38],[680,0.35],[780,0.3],[970,0.2],[1160,0.18],[1360,0.16],[1550,0.14],[1740,0.13],[1940,0.11],[2330,0.09],[2710,0.07],[3100,0.05],[3490,0.07],[3680,0.11],[3880,0.14],[4070,0.16],[4260,0.14],[4460,0.15],[4650,0.14],[4840,0.13],[5000,0.14]],
  [[1,0.5],[60,0.86],[120,0.8],[190,0.32],[250,0.21],[310,0.26],[370,0.18],[450,0.11],[580,0.04],[770,0.01],[900,0],[5000,0]],
  [[1,0.5],[59,0.5],[99,0.79],[158,0.93],[217,0.68],[296,0.93],[356,0.64],[415,0.46],[494,0.64],[593,0.93],[692,0.95],[771,0.75],[850,0.54],[929,0.61],[1008,0.43],[1087,0.54],[1186,0.36],[1284,0.5],[1383,0.36],[1482,0.54],[1581,0.68],[1680,0.61],[1778,0.64],[1877,0.71],[1976,0.79],[2075,0.89],[2174,0.93],[2272,0.95],[2371,0.86],[2470,0.68],[2569,0.79],[2668,0.43],[2767,0.57],[2866,0.14],[2964,0.43],[3063,0.07],[3162,0.25],[3261,0],[3360,0.43],[3458,0.14],[3557,0.61],[3656,0],[3755,0.5],[3854,0.21],[3953,0.68],[4051,0.43],[4150,0.75],[4249,0],[4348,0.61],[4447,0.79],[4545,0.89],[4644,0.14],[4703,0.82],[4802,0.95],[4881,0.71],[4960,0.43],[5000,0.4]],
  [[1,0.8],[60,0.86],[140,0.79],[210,0.43],[290,0.39],[390,0.46],[490,0.29],[590,0.25],[690,0.27],[780,0.25],[880,0.23],[980,0.18],[1080,0.14],[1180,0.13],[1270,0.11],[1470,0.09],[1670,0.07],[1860,0.05],[2060,0.04],[2250,0.02],[2450,0.01],[2840,0.01],[3040,0.04],[3140,0.2],[3230,0.07],[3330,0.18],[3430,0.11],[3530,0.09],[3820,0.1],[4210,0.11],[4610,0.09],[4800,0.11],[5000,0.1]],
  [[1,0.6],[60,0.86],[120,0.86],[180,0.43],[220,0.57],[260,0.61],[320,0.43],[380,0.29],[450,0.18],[550,0.07],[650,0.02],[850,0],[5000,0]]
];
const OCR_P = [
  [[1,0.75],[35,0.77],[88,0.52],[158,0.81],[228,0.56],[298,0.38],[351,0.7],[421,0.63],[474,0.81],[544,0.7],[614,0.52],[684,0.77],[754,0.59],[824,0.66],[912,0.52],[1000,0.59],[1087,0.49],[1175,0.56],[1263,0.7],[1351,0.77],[1403,0.88],[1456,0.77],[1526,0.56],[1614,0.59],[1702,0.7],[1789,0.56],[1877,0.52],[1965,0.59],[2052,0.49],[2140,0.56],[2228,0.66],[2315,0.84],[2403,0.7],[2491,0.88],[2579,0.66],[2667,0.91],[2754,0.59],[2842,0.7],[2930,0.91],[3018,0.38],[3105,0.56],[3193,0.31],[3281,0.45],[3368,0.28],[3456,0.52],[3544,0.35],[3631,0.81],[3719,0.59],[3807,0.77],[3894,0.52],[3982,0.7],[4070,0.88],[4158,0.59],[4245,0.7],[4333,0.52],[4421,0.59],[4508,0.73],[4596,0.56],[4684,0.66],[4771,0.52],[4859,0.63],[4912,0.31],[4965,0.45],[5000,0.4]],
  [[1,0.97],[80,0.9],[200,0.82],[500,0.8],[1000,0.81],[1600,0.82],[1680,0.74],[1900,0.74],[2500,0.74],[3500,0.75],[4500,0.75],[5000,0.75]],
  [[1,0.12],[40,0],[5000,0]],
  [[1,0.6],[88,0.52],[175,0.77],[263,0.66],[351,0.49],[438,0.73],[526,0.66],[614,0.42],[702,0.63],[789,0.73],[877,0.81],[965,0.52],[1017,0.31],[1052,0.45],[1140,0.66],[1228,0.81],[1315,0.91],[1403,0.93],[1491,0.91],[1579,0.89],[1666,0.81],[1754,0.73],[1842,0.66],[1929,0.77],[2017,0.59],[2105,0.84],[2193,0.7],[2280,0.59],[2368,0.77],[2456,0.66],[2544,0.81],[2631,0.56],[2719,0.7],[2807,0.49],[2894,0.73],[2982,0.59],[3070,0.77],[3157,0.52],[3245,0.66],[3333,0.77],[3421,0.63],[3508,0.73],[3596,0.52],[3684,0.66],[3771,0.77],[3859,0.56],[3947,0.7],[4035,0.63],[4122,0.81],[4210,0.66],[4298,0.73],[4385,0.88],[4473,0.77],[4561,0.45],[4649,0.77],[4736,0.91],[4824,0.88],[4912,0.91],[5000,0.88]],
  [[1,0.95],[200,0.94],[500,0.93],[800,0.92],[870,0.78],[1000,0.77],[1100,0.72],[1200,0.7],[2000,0.69],[3000,0.68],[4000,0.68],[5000,0.68]],
  [[1,0.1],[40,0],[5000,0]],
  [[1,0.7],[59,0.84],[138,0.88],[217,0.77],[296,0.86],[375,0.66],[454,0.88],[534,0.63],[613,0.77],[692,0.66],[790,0.59],[889,0.63],[988,0.66],[1087,0.88],[1186,0.93],[1284,0.88],[1383,0.77],[1482,0.91],[1581,0.81],[1680,0.93],[1778,0.73],[1877,0.91],[1976,0.77],[2075,0.93],[2174,0.84],[2272,0.95],[2371,0.77],[2470,0.88],[2569,0.84],[2668,0.91],[2767,0.82],[2866,0.88],[2964,0.73],[3023,0.66],[3102,0.84],[3201,0.88],[3300,0.77],[3399,0.84],[3498,0.88],[3597,0.81],[3695,0.84],[3794,0.77],[3893,0.82],[3992,0.73],[4090,0.81],[4189,0.7],[4288,0.77],[4387,0.66],[4486,0.73],[4584,0.56],[4644,0.66],[4743,0.77],[4841,0.7],[4940,0.73],[5000,0.7]],
  [[1,0.9],[100,0.97],[1500,0.98],[2500,0.98],[3450,0.98],[3550,0.93],[5000,0.93]],
  [[1,0.13],[40,0],[5000,0]]
];
const RCV1_P = [
  [[1,0.35],[120,0.64],[260,0.6],[390,0.72],[470,0.75],[560,0.88],[650,0.9],[820,0.92],[1000,0.92],[1350,0.93],[1560,0.93],[1610,0.83],[1700,0.92],[1880,0.94],[2050,0.92],[2140,0.82],[2230,0.92],[2400,0.94],[2580,0.93],[2700,0.93],[2750,0.83],[2840,0.92],[2930,0.82],[3020,0.94],[3190,0.85],[3280,0.82],[3630,0.82],[3800,0.83],[3890,0.94],[4070,0.92],[4160,0.82],[4250,0.94],[4420,0.96],[4510,0.98],[4600,0.96],[4680,0.87],[5000,0.86]],
  [[1,0.92],[70,0],[5000,0]],
  [[1,0.38],[80,0],[5000,0]],
  [[1,0.97],[150,0.88],[260,0.82],[440,0.78],[550,0.8],[700,0.78],[900,0.8],[1050,0.78],[1300,0.8],[1580,0.78],[1900,0.79],[2280,0.8],[2380,0.94],[2470,0.92],[2520,0.66],[2630,0.59],[2810,0.61],[3160,0.59],[3510,0.61],[3860,0.57],[4210,0.61],[4560,0.58],[4910,0.62],[5000,0.6]],
  [[1,0.62],[80,0.2],[150,0.02],[250,0],[5000,0]],
  [[1,0.35],[40,0],[5000,0]],
  [[1,0.57],[160,0.6],[260,0.85],[400,0.89],[890,0.9],[1480,0.92],[2080,0.93],[2470,0.94],[2570,0.76],[2770,0.75],[2870,0.64],[2960,0.57],[3060,0.46],[3160,0.55],[3260,0.57],[3360,0.43],[3460,0.41],[3560,0.43],[3650,0.32],[3750,0.29],[3850,0.34],[3950,0.29],[4050,0.22],[4150,0.29],[4250,0.25],[4350,0.24],[4450,0.2],[4550,0.17],[4640,0.18],[4740,0.11],[4840,0.08],[4940,0.11],[5000,0.1]],
  [[1,0.64],[50,0],[5000,0]],
  [[1,0.3],[40,0],[5000,0]]
];
const WEB_P = [
  [[1,0.7],[120,0.84],[200,0.81],[300,0.86],[370,0.73],[420,0.86],[510,0.45],[580,0.13],[650,0],[5000,0]],
  [[1,0.93],[80,0.5],[150,0],[5000,0]],
  [[1,0.5],[50,0],[5000,0]],
  [[1,0.9],[150,0.95],[250,0.9],[350,0.77],[420,0.63],[460,0.52],[530,0.45],[610,0.24],[700,0.06],[790,0],[5000,0]],
  [[1,0.89],[100,0.3],[180,0],[5000,0]],
  [[1,0.35],[40,0],[5000,0]],
  [[1,0.4],[80,0.6],[140,0.88],[200,0.91],[250,0.73],[300,0.84],[350,0.52],[400,0.31],[460,0.13],[530,0],[5000,0]],
  [[1,0.5],[40,0],[5000,0]],
  [[1,0.35],[40,0],[5000,0]]
];
const CALTECH16_P = [
  [[1,0.25],[50,0],[5000,0]], [[1,0.29],[50,0],[5000,0]], [[1,0.27],[50,0],[5000,0]],
  [[1,0.3],[50,0],[5000,0]], [[1,0.22],[40,0],[5000,0]], [[1,0.23],[40,0],[5000,0]],
  [[1,0.25],[40,0],[5000,0]], [[1,0.22],[40,0],[5000,0]], [[1,0.17],[40,0],[5000,0]]
];
const CALTECH28_P = [
  [[1,0.55],[100,0.64],[300,0.67],[470,0.69],[560,0.74],[650,0.85],[740,0.94],[820,0.96],[1000,0.98],[2000,0.98],[2840,0.98],[2930,0.9],[3500,0.9],[4070,0.89],[4160,0.83],[5000,0.83]],
  [[1,0.36],[40,0],[5000,0]],
  [[1,0.29],[40,0],[5000,0]],
  [[1,0.5],[150,0.75],[300,0.89],[440,0.96],[700,0.95],[850,0.92],[960,0.82],[1050,0.78],[1580,0.78],[1670,0.71],[2460,0.71],[2540,0.66],[3160,0.65],[4210,0.65],[5000,0.66]],
  [[1,0.33],[40,0],[5000,0]],
  [[1,0.25],[40,0],[5000,0]],
  [[1,0.2],[100,0.6],[200,0.74],[400,0.76],[500,0.81],[690,0.88],[790,0.96],[1100,0.98],[2300,0.98],[3460,0.98],[3560,0.93],[4450,0.91],[4550,0.84],[5000,0.83]],
  [[1,0.35],[40,0],[5000,0]],
  [[1,0.26],[40,0],[5000,0]]
];
const MNIST_P = [
  [[1,0.7],[120,0.74],[190,0.85],[230,0.67],[260,0.88],[300,0.81],[350,0.35],[400,0.18],[470,0.16],[750,0.17],[900,0.17],[1000,0.13],[1350,0.12],[2050,0.12],[3100,0.11],[4150,0.12],[5000,0.12]],
  [[1,0.95],[60,0.5],[110,0],[5000,0]],
  [[1,0.76],[60,0.4],[110,0],[5000,0]],
  [[1,0.53],[50,0.77],[210,0.92],[260,0.77],[320,0.63],[390,0.62],[530,0.61],[880,0.6],[1230,0.59],[1580,0.57],[2110,0.56],[2460,0.57],[2810,0.56],[3330,0.58],[3680,0.57],[4210,0.59],[4560,0.58],[5000,0.57]],
  [[1,0.95],[60,0.3],[100,0],[5000,0]],
  [[1,0.9],[60,0.3],[100,0],[5000,0]],
  [[1,0.58],[100,0.7],[200,0.86],[400,0.85],[700,0.84],[1500,0.84],[2300,0.82],[3000,0.81],[3900,0.82],[4600,0.81],[5000,0.81]],
  [[1,0.95],[60,0.3],[100,0],[5000,0]],
  [[1,0.5],[50,0],[5000,0]]
];

const LOGPROB = [ADULT_LL, CONNECT4_LL, DNA_LL, MUSHROOMS_LL, NIPS_LL, OCR_LL, RCV1_LL, WEB_LL, CALTECH16_LL, CALTECH28_LL, MNIST_LL];
const PVALUE = [ADULT_P, CONNECT4_P, DNA_P, MUSHROOMS_P, NIPS_P, OCR_P, RCV1_P, WEB_P, CALTECH16_P, CALTECH28_P, MNIST_P];

const RED = '#ff0000';
const CYAN = '#00bfbf';
const FIG_W = 1090, FIG_H = 1444;
const PANEL = 95;
const colLeft = c => 101 + 104 * c;
const rowTop = r => Math.round(53 + 122.4 * r);
const fmtMinus = v => (v < 0 ? '\u2212' : '') + Math.abs(v);

Chart.defaults.font.family = "'DejaVu Sans', sans-serif";
Chart.defaults.font.size = 14;

// frame, inward ticks and rotated epoch labels
const panelDeco = {
  id: 'panelDeco',
  afterDraw(chart, args, o) {
    const { ctx, chartArea: a } = chart;
    const xS = chart.scales.x;
    ctx.save();
    ctx.lineWidth = 1.5;
    if (o.leftTicks) {
      ctx.strokeStyle = RED;
      o.leftTicks.forEach(v => {
        const y = chart.scales.y.getPixelForValue(v);
        ctx.beginPath(); ctx.moveTo(a.left, y); ctx.lineTo(a.left + 7, y); ctx.stroke();
      });
    }
    if (o.rightTicks) {
      ctx.strokeStyle = CYAN;
      P_TICKS.forEach(v => {
        const y = chart.scales.y2.getPixelForValue(v);
        ctx.beginPath(); ctx.moveTo(a.right, y); ctx.lineTo(a.right - 7, y); ctx.stroke();
      });
    }
    if (o.bottom) {
      ctx.strokeStyle = '#000';
      X_TICKS.forEach(v => {
        const x = xS.getPixelForValue(v);
        ctx.beginPath();
        ctx.moveTo(x, a.top); ctx.lineTo(x, a.top + 7);
        ctx.moveTo(x, a.bottom); ctx.lineTo(x, a.bottom - 7);
        ctx.stroke();
      });
      ctx.fillStyle = '#000';
      ctx.font = "14px 'DejaVu Sans'";
      ctx.textAlign = 'center';
      ctx.textBaseline = 'middle';
      X_TICKS.forEach(v => {
        const x = xS.getPixelForValue(v);
        const t = String(v);
        const w = ctx.measureText(t).width;
        ctx.save();
        ctx.translate(x, a.bottom + 11 + (w + 10) * 0.3536);
        ctx.rotate(Math.PI / 4);
        ctx.fillText(t, 0, 0);
        ctx.restore();
      });
    }
    ctx.strokeStyle = '#000';
    ctx.lineWidth = 2.5;
    ctx.strokeRect(a.left, a.top, a.right - a.left, a.bottom - a.top);
    ctx.restore();
  }
};

const fig = document.getElementById('fig');

function addLabel(html, left, top, cls, color) {
  const d = document.createElement('div');
  d.className = cls;
  d.innerHTML = html;
  d.style.left = left + 'px';
  d.style.top = top + 'px';
  if (color) d.style.color = color;
  fig.appendChild(d);
}

// column headers
for (let c = 0; c < 9; c++) {
  const cx = colLeft(c) + PANEL / 2;
  addLabel(`n<sup>CD</sup>=${N_CD[c]}<br>n<sup><i>h</i></sup>=${N_H[c]}`, cx - 52, 8, 'lbl');
  addLabel(`n<sup><i>h</i></sup>=${N_H_CALTECH[c]}`, cx - 52, 1006, 'lbl');
  addLabel('Epochs [#]', cx - 52, 1422, 'lbl');
}

const nRows = DATASET_NAMES.length;
DATASET_NAMES.forEach((name, r) => {
  addLabel('P-value [#]', 1079, rowTop(r) + PANEL / 2, 'ptitle');
  for (let c = 0; c < 9; c++) {
    const first = c === 0, last = c === 8, bottom = r === nRows - 1;
    const L = first ? colLeft(0) : (bottom ? 16 : 6);
    const R = last ? FIG_W - colLeft(8) - PANEL : (bottom ? 30 : 6);
    const T = 6;
    const B = bottom ? FIG_H - rowTop(r) - PANEL : 6;

    const cv = document.createElement('canvas');
    cv.width = L + PANEL + R;
    cv.height = T + PANEL + B;
    cv.style.left = (colLeft(c) - L) + 'px';
    cv.style.top = (rowTop(r) - T) + 'px';
    fig.appendChild(cv);

    const redPts = LOGPROB[r][c].slice(0, EPOCHS.length).map((v, i) => ({ x: EPOCHS[i], y: v }));
    const cyanPts = PVALUE[r][c].map(p => ({ x: p[0], y: p[1] }));

    new Chart(cv, {
      type: 'line',
      data: {
        datasets: [
          { data: cyanPts, borderColor: CYAN, borderWidth: 2, yAxisID: 'y2', order: 0 },
          { data: redPts, borderColor: RED, borderWidth: 2.1, yAxisID: 'y', order: 1 }
        ]
      },
      options: {
        responsive: false,
        animation: false,
        devicePixelRatio: 1,
        events: [],
        layout: { padding: { left: first ? 0 : L, right: last ? 0 : R, top: T, bottom: B } },
        elements: { point: { radius: 0 }, line: { tension: 0, borderCapStyle: 'butt' } },
        plugins: {
          legend: { display: false },
          tooltip: { enabled: false },
          panelDeco: { leftTicks: first ? Y_TICKS[r] : null, rightTicks: last, bottom: bottom }
        },
        scales: {
          x: { type: 'linear', min: 1, max: 5000, display: false },
          y: {
            type: 'linear', position: 'left', min: Y_MIN[r], max: Y_MAX[r], display: first,
            grid: { display: false, drawTicks: false }, border: { display: false },
            ticks: { color: RED, padding: 8, autoSkip: false, callback: v => fmtMinus(v) },
            afterBuildTicks: s => { s.ticks = Y_TICKS[r].map(v => ({ value: v })); },
            afterFit: s => { if (first) { s.width = L; s.paddingTop = 0; s.paddingBottom = 0; } },
            title: { display: true, text: [name, 'log-prob. [nats]'], color: RED, padding: { top: 21, bottom: 0 } }
          },
          y2: {
            type: 'linear', position: 'right', min: 0, max: 1, display: last,
            grid: { display: false, drawTicks: false }, border: { display: false },
            ticks: { color: CYAN, padding: 9, autoSkip: false, callback: v => v.toFixed(1) },
            afterBuildTicks: s => { s.ticks = P_TICKS.map(v => ({ value: v })); },
            afterFit: s => { if (last) { s.width = R; s.paddingTop = 0; s.paddingBottom = 0; } }
          }
        }
      },
      plugins: [panelDeco]
    });
  }
});
</script>
</body>
</html>
